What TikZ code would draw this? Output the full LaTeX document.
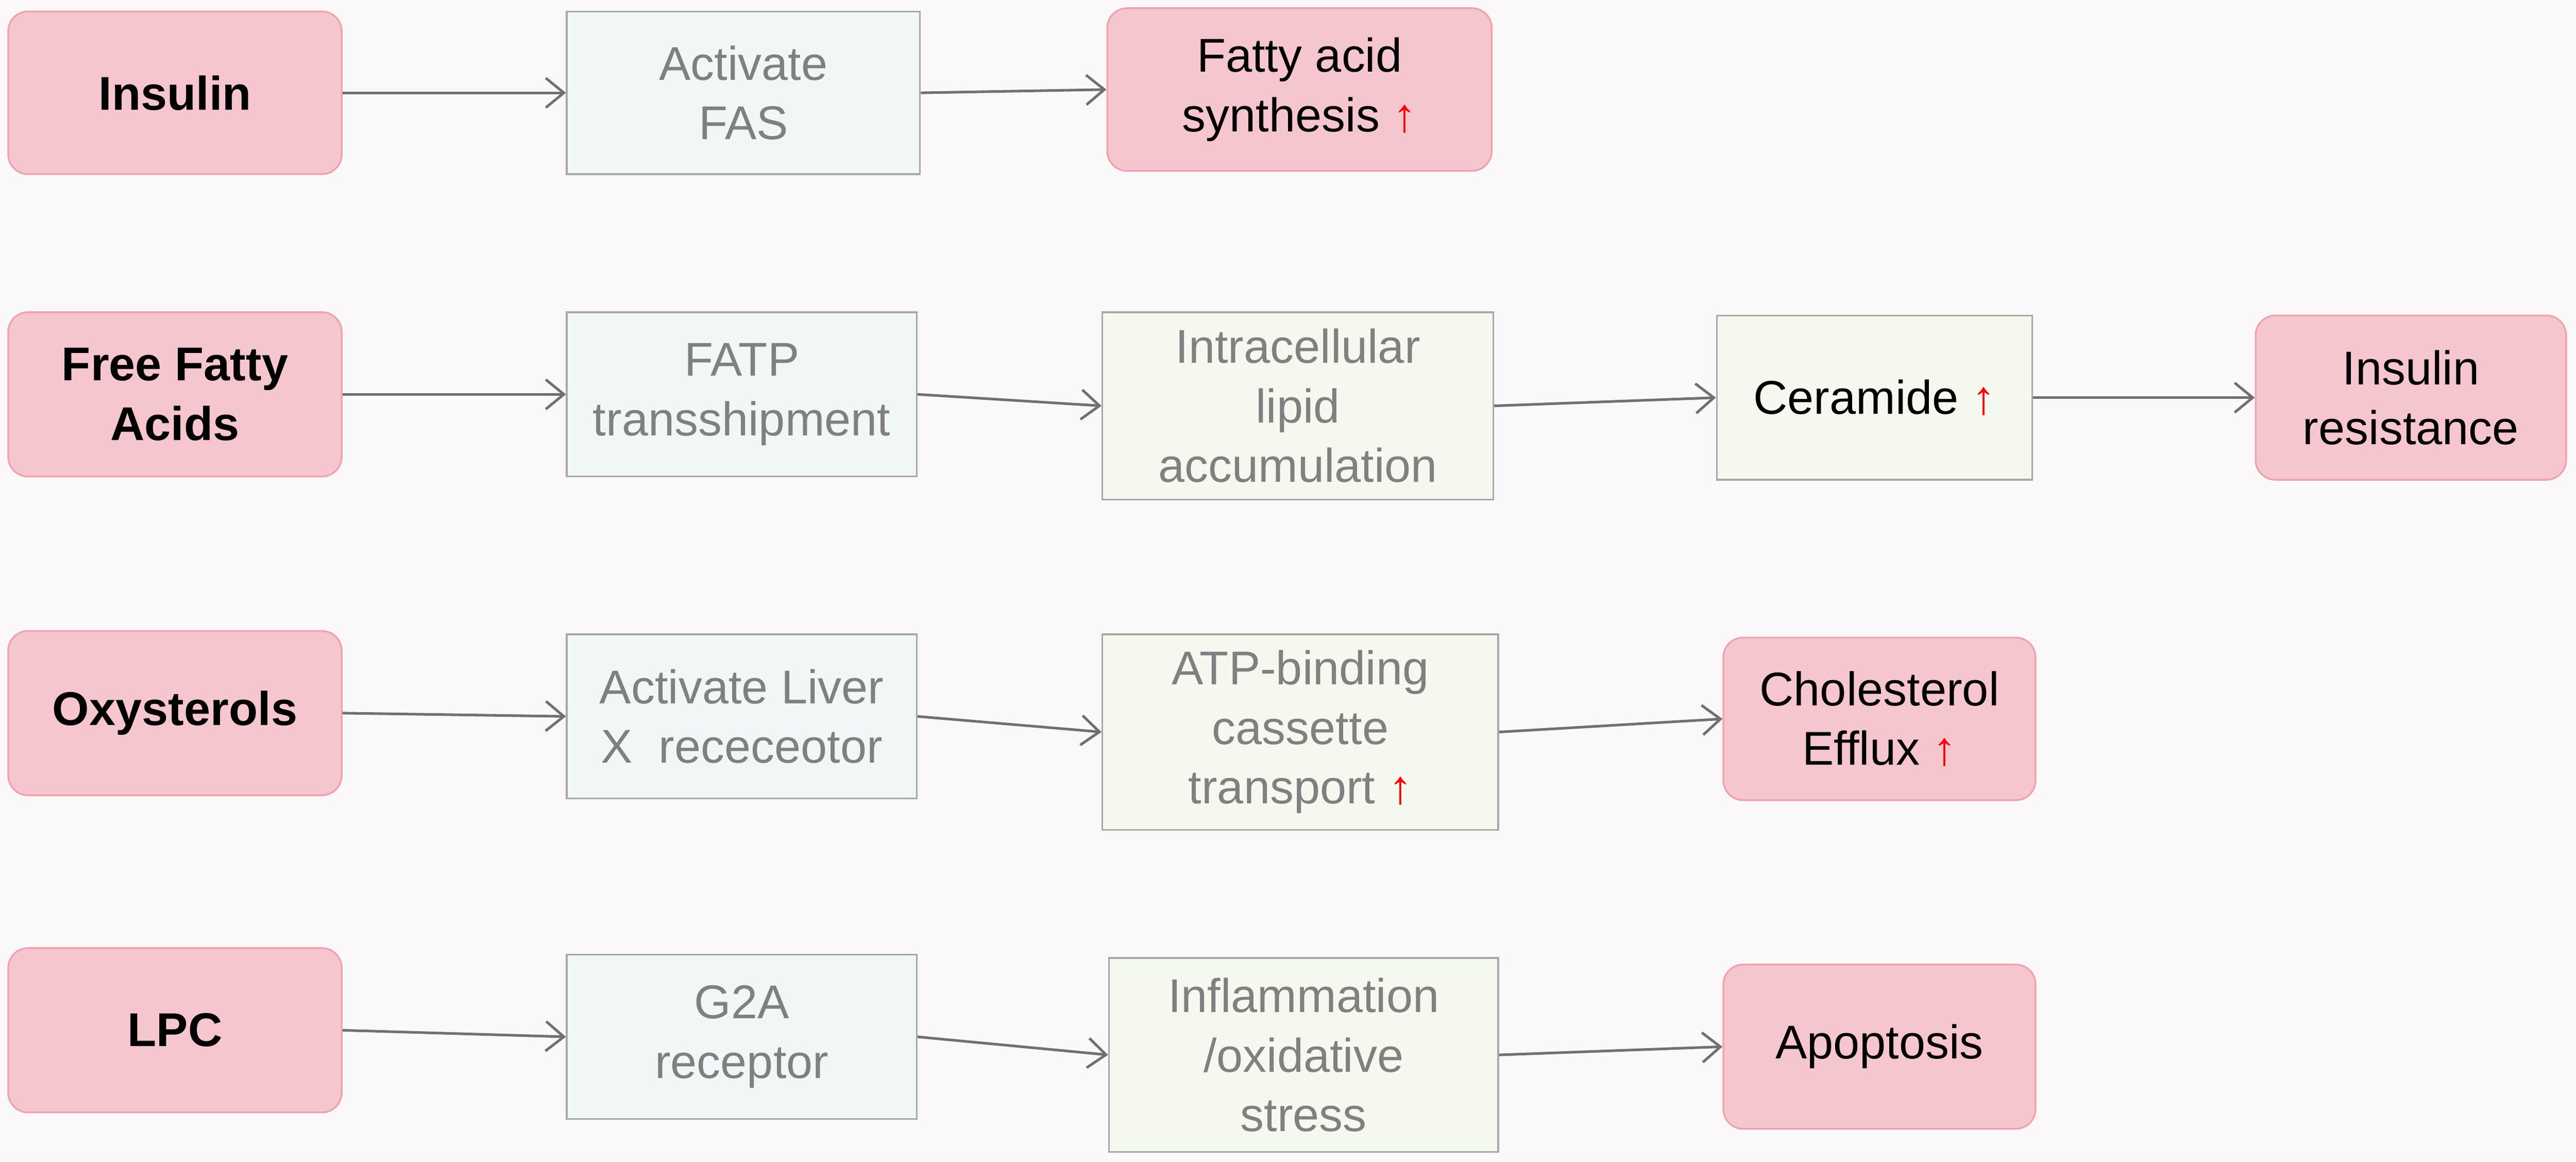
\documentclass[tikz,border=0pt]{standalone}
\usepackage{fontspec}
\setmainfont{Liberation Sans}
\usetikzlibrary{arrows.meta}
\definecolor{bg}{HTML}{FBF8F9}
\definecolor{pinkf}{HTML}{F5C6CE}
\definecolor{pinkd}{HTML}{EFA2B0}
\definecolor{blf}{HTML}{F1F6F6}
\definecolor{grf}{HTML}{F5F8EF}
\definecolor{bd}{HTML}{A8A8A8}
\definecolor{tx}{HTML}{808080}
\definecolor{ar}{HTML}{707070}
\newcommand{\up}{\textcolor{red}{↑}}
\begin{document}
\begin{tikzpicture}[x=0.01cm,y=-0.01cm,
  every node/.style={font=\fontsize{8.2}{10.3}\selectfont,align=center,inner sep=0pt},
  pk/.style={draw=pinkd,fill=pinkf,rounded corners=1.2mm,line width=0.3pt},
  bx/.style={draw=bd,fill=blf,line width=0.3pt,text=tx},
  gx/.style={draw=bd,fill=grf,line width=0.3pt,text=tx},
  ar/.style={draw=ar,line width=0.45pt,-{Straight Barb[length=1.1mm,width=1.8mm]}}]
\fill[bg] (0,0) rectangle (1568,707);
\newcommand{\bx}[7]{\node[#2,minimum width={(#5-#3)*0.01cm},minimum height={(#6-#4)*0.01cm}] (#1) at ({(#3+#5)/2},{(#4+#6)/2}) {#7};}
% row 1
\bx{a1}{pk}{5}{7}{208}{106}{\textbf{Insulin}}
\bx{a2}{bx}{345}{7}{560}{106}{Activate\\FAS}
\bx{a3}{pk}{674}{5}{908}{104}{Fatty acid\\synthesis \up}
% row 2
\bx{b1}{pk}{5}{190}{208}{290}{\textbf{Free Fatty}\\\textbf{Acids}}
\bx{b2}{bx}{345}{190}{558}{290}{FATP\\transshipment}
\bx{b3}{gx}{671}{190}{909}{304}{Intracellular\\lipid\\accumulation}
\bx{b4}{gx}{1045}{192}{1237}{292}{\textcolor{black}{Ceramide \up}}
\bx{b5}{pk}{1373}{192}{1562}{292}{Insulin\\resistance}
% row 3
\bx{c1}{pk}{5}{384}{208}{484}{\textbf{Oxysterols}}
\bx{c2}{bx}{345}{386}{558}{486}{Activate Liver\\X\ \ receceotor}
\bx{c3}{gx}{671}{386}{912}{505}{ATP-binding\\cassette\\transport \up}
\bx{c4}{pk}{1049}{388}{1239}{487}{Cholesterol\\Efflux \up}
% row 4
\bx{d1}{pk}{5}{577}{208}{677}{\textbf{LPC}}
\bx{d2}{bx}{345}{581}{558}{681}{G2A\\receptor}
\bx{d3}{gx}{675}{583}{912}{701}{Inflammation\\/oxidative\\stress}
\bx{d4}{pk}{1049}{587}{1239}{687}{Apoptosis}
\draw[ar] (a1.east) -- (a2.west);
\draw[ar] (a2.east) -- (a3.west);
\draw[ar] (b1.east) -- (b2.west);
\draw[ar] (b2.east) -- (b3.west);
\draw[ar] (b3.east) -- (b4.west);
\draw[ar] (b4.east) -- (b5.west);
\draw[ar] (c1.east) -- (c2.west);
\draw[ar] (c2.east) -- (c3.west);
\draw[ar] (c3.east) -- (c4.west);
\draw[ar] (d1.east) -- (d2.west);
\draw[ar] (d2.east) -- (d3.west);
\draw[ar] (d3.east) -- (d4.west);
\end{tikzpicture}
\end{document}
